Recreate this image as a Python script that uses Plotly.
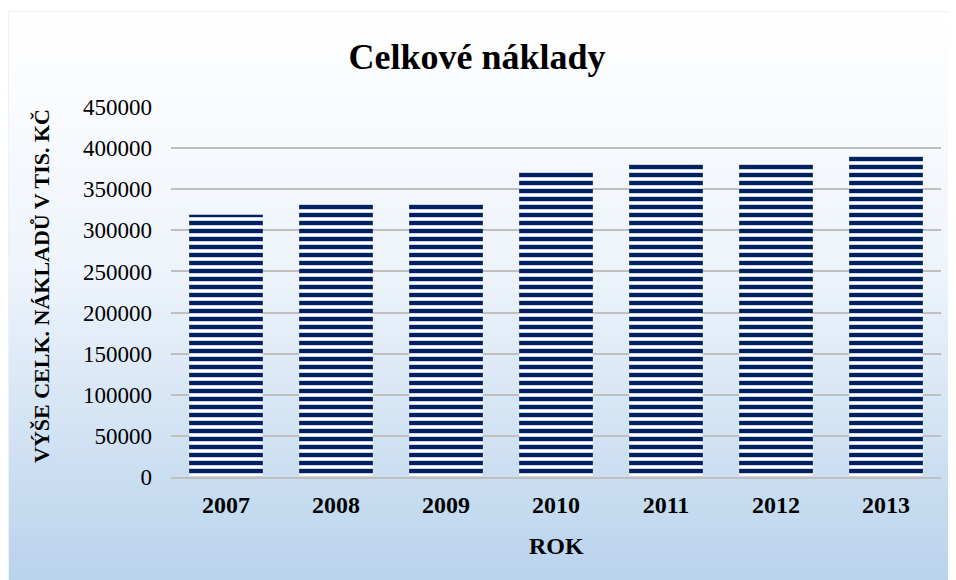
import plotly.graph_objects as go

years = ["2007", "2008", "2009", "2010", "2011", "2012", "2013"]
costs = [319000, 332000, 332000, 371000, 381000, 381500, 390500]
y_ticks = [0, 50000, 100000, 150000, 200000, 250000, 300000, 350000, 400000, 450000]

# figure is placed by the page at an 8px body margin
W, H = 948, 572
L, R, T, B = 163, 15, 99, 103
pw, ph = W - L - R, H - T - B

def px_to_paper_x(px):
    return (px - L) / pw

def px_to_paper_y(py):
    return (H - B - py) / ph

def lerp(c1, c2, t):
    return tuple(round(a + (b - a) * t) for a, b in zip(c1, c2))

stops = [(0.0, (255, 255, 255)), (0.45, (238, 244, 251)), (1.0, (184, 211, 236))]

def grad(t):
    for (t0, c0), (t1, c1) in zip(stops[:-1], stops[1:]):
        if t <= t1:
            return lerp(c0, c1, (t - t0) / (t1 - t0))
    return stops[-1][1]

shapes = []
top_px, bot_px, left_px = 3, H + 2, 0
n = 114
step = (bot_px - top_px) / n
for i in range(n):
    y0 = top_px + i * step
    y1 = y0 + step + 0.6
    c = grad((i + 0.5) / n)
    shapes.append(dict(
        type="rect", xref="paper", yref="paper", layer="below",
        x0=px_to_paper_x(left_px), x1=px_to_paper_x(W + 2),
        y0=px_to_paper_y(y1), y1=px_to_paper_y(y0),
        line=dict(width=0), fillcolor="rgb(%d,%d,%d)" % c,
    ))
shapes.append(dict(
    type="rect", xref="paper", yref="paper", layer="below",
    x0=px_to_paper_x(left_px + 0.5), x1=px_to_paper_x(W + 2),
    y0=px_to_paper_y(bot_px + 2), y1=px_to_paper_y(top_px + 0.5),
    line=dict(width=1, color="#eaf1fa"), fillcolor="rgba(0,0,0,0)",
))

fig = go.Figure()
fig.add_trace(go.Bar(
    x=years, y=costs,
    marker=dict(
        color="white",
        line=dict(width=0),
        pattern=dict(shape="-", fgcolor="#002060", bgcolor="white", fgopacity=1,
                     size=8, solidity=0.55, fillmode="overlay"),
    ),
    width=0.67,
))

serif = "Liberation Serif"
fig.update_layout(
    width=W, height=H,
    margin=dict(l=L, r=R, t=T, b=B),
    paper_bgcolor="white",
    plot_bgcolor="rgba(0,0,0,0)",
    shapes=shapes,
    showlegend=False,
    title=dict(text="<b>Celkové náklady</b>", x=469 / W, xref="container", y=1 - 48 / H,
               yanchor="middle", xanchor="center",
               font=dict(family=serif, size=36, color="black")),
    font=dict(family=serif, color="black"),
    xaxis=dict(
        type="category",
        showgrid=False,
        showline=True, linecolor="#bfbfbf", linewidth=1.5,
        ticks="", tickfont=dict(family=serif, size=24, color="black", weight="bold"),
        ticklabelstandoff=5,
        fixedrange=True,
    ),
    yaxis=dict(
        range=[0, 450000],
        tickvals=y_ticks,
        ticktext=[str(v) for v in y_ticks],
        showgrid=True, gridcolor="#bfbfbf", gridwidth=1.5,
        zeroline=False,
        ticks="", tickfont=dict(family=serif, size=23, color="black"),
        ticklabelstandoff=18,
        fixedrange=True,
    ),
    annotations=[
        dict(text="<b>ROK</b>", xref="paper", yref="paper",
             x=0.5, y=px_to_paper_y(538), xanchor="center", yanchor="middle",
             showarrow=False, font=dict(family=serif, size=24, color="black")),
        dict(text="<b>VÝŠE CELK. NÁKLADŮ V TIS. KČ</b>", xref="paper", yref="paper",
             x=px_to_paper_x(33), y=px_to_paper_y(278), xanchor="center", yanchor="middle",
             textangle=-90, showarrow=False,
             font=dict(family=serif, size=22, color="black")),
    ],
)

fig.write_html("out.html")
